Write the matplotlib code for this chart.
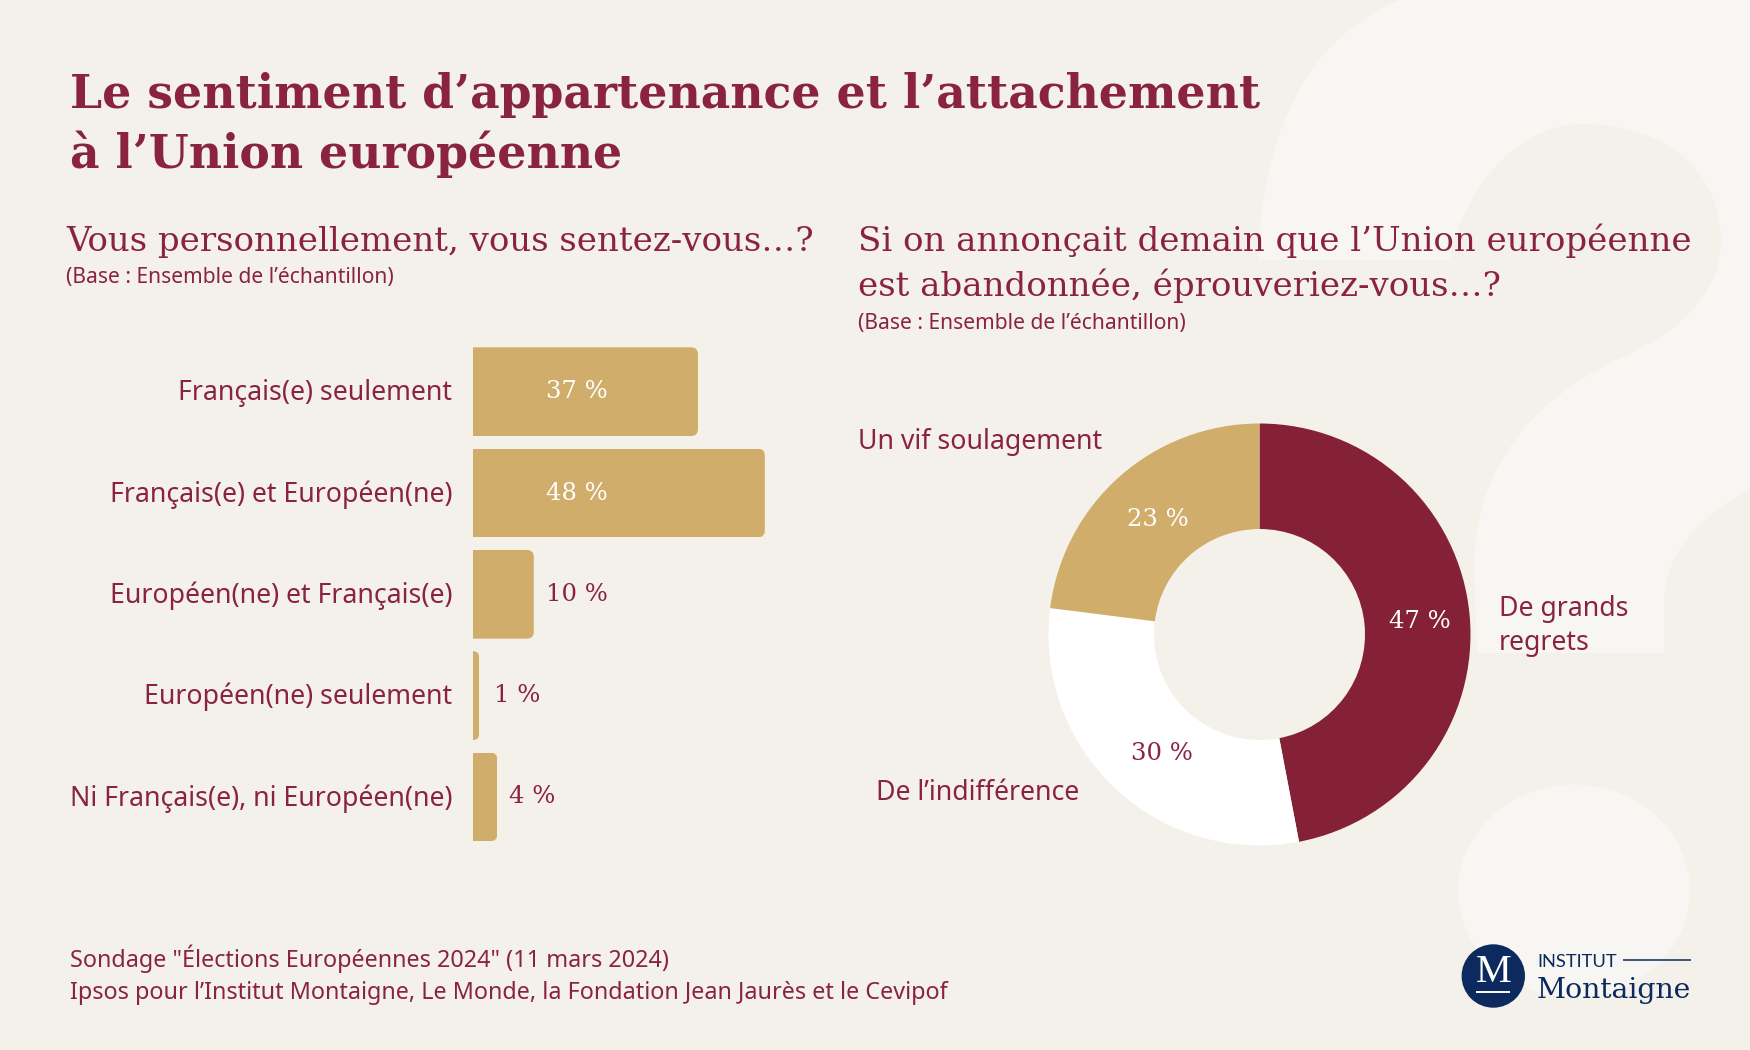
import matplotlib
matplotlib.use("Agg")
import matplotlib.pyplot as plt
from matplotlib.path import Path
from matplotlib.patches import PathPatch, Ellipse, Circle
from matplotlib.transforms import ScaledTranslation

# ---- data ----
bar_categories = ["Français(e) seulement", "Français(e) et Européen(ne)",
                  "Européen(ne) et Français(e)", "Européen(ne) seulement",
                  "Ni Français(e), ni Européen(ne)"]
bar_values = [37, 48, 10, 1, 4]
donut_categories = ["De grands\nregrets", "De l’indifférence", "Un vif soulagement"]
donut_values = [47, 30, 23]

title_lines = ["Le sentiment d’appartenance et l’attachement", "à l’Union européenne"]
left_question = ["Vous personnellement, vous sentez-vous…?"]
right_question = ["Si on annonçait demain que l’Union européenne", "est abandonnée, éprouveriez-vous…?"]
base_note = "(Base : Ensemble de l’échantillon)"
footer_lines = ["Sondage \"Élections Européennes 2024\" (11 mars 2024)",
                "Ipsos pour l’Institut Montaigne, Le Monde, la Fondation Jean Jaurès et le Cevipof"]

# ---- styles ----
W, H = 1750, 1050
BG = "#F4F1EA"
PALE = "#F8F6F2"
WINE = "#852137"
TEXT = "#8A2340"
GOLD = "#D0AD6A"
NAVY = "#0C2A5E"
SERIF = "DejaVu Serif"
SANS = "Noto Sans"
LABEL_SIZE = 19.2

fig = plt.figure(figsize=(W / 100, H / 100), dpi=100, facecolor=BG)
renderer = fig.canvas.get_renderer()


def fit(txt, target_px):
    """Scale a text's font size so that it spans target_px pixels."""
    w = txt.get_window_extent(renderer).width
    txt.set_fontsize(txt.get_fontsize() * target_px / w)
    return txt


def axes_px(x0, y0, x1, y1, **kw):
    return fig.add_axes([x0 / W, 1 - y1 / H, (x1 - x0) / W, (y1 - y0) / H], **kw)


# ---- page layer, in pixel coordinates ----
bgax = fig.add_axes([0, 0, 1, 1], zorder=0)
bgax.set_xlim(0, W)
bgax.set_ylim(H, 0)
bgax.axis("off")

M, L, C = Path.MOVETO, Path.LINETO, Path.CURVE4
q_pts = [(1400, 0), (1310, 35), (1262, 130), (1258, 260), (1449, 260),
         (1470, 170), (1530, 124), (1582, 124), (1670, 124), (1721, 175), (1721, 241),
         (1721, 300), (1670, 335), (1621, 358), (1530, 400), (1474, 470), (1474, 569),
         (1477, 653), (1664, 653), (1664, 603), (1664, 555), (1700, 515), (1750, 489),
         (1750, 0), (1400, 0)]
q_codes = [M, C, C, C, L, C, C, C, C, C, C, C, C, C, C, C, C, L, L, L, C, C, C, L, L]
bgax.add_patch(PathPatch(Path(q_pts, q_codes), fc=PALE, ec="none"))
bgax.add_patch(Ellipse((1574, 891), 232, 213, fc=PALE, ec="none"))

t1 = bgax.text(70, 108.5, title_lines[0], family=SERIF, weight="bold", color=TEXT, fontsize=34, va="baseline")
fit(t1, 1190)
bgax.text(70, 167.5, title_lines[1], family=SERIF, weight="bold", color=TEXT, fontsize=t1.get_fontsize(), va="baseline")

t2 = bgax.text(66, 251, left_question[0], family=SERIF, color=TEXT, fontsize=24, va="baseline")
fit(t2, 748)
t3 = bgax.text(858, 251, right_question[0], family=SERIF, color=TEXT, fontsize=24, va="baseline")
fit(t3, 834)
bgax.text(858, 296, right_question[1], family=SERIF, color=TEXT, fontsize=t3.get_fontsize(), va="baseline")

n1 = bgax.text(66, 283, base_note, family=SANS, color=TEXT, fontsize=13, va="baseline")
fit(n1, 328)
bgax.text(858, 329, base_note, family=SANS, color=TEXT, fontsize=n1.get_fontsize(), va="baseline")

f1 = bgax.text(70, 959, footer_lines[0], family=SANS, color=TEXT, fontsize=17, va="center")
f2 = bgax.text(70, 993, footer_lines[1], family=SANS, color=TEXT, fontsize=17, va="center")
fit(f2, 875)
f1.set_fontsize(f2.get_fontsize())

# logo
bgax.add_patch(Circle((1493.3, 976), 31.7, fc=NAVY, ec="none"))
bgax.text(1493.3, 973, "M", family="Liberation Serif", color="white", fontsize=29, ha="center", va="center")
bgax.plot([1476, 1510], [992, 992], color="white", lw=1.4, solid_capstyle="butt")
inst = bgax.text(1537, 966.7, "INSTITUT", family="Lato", color=NAVY, fontsize=13, va="baseline")
fit(inst, 80)
bgax.plot([1623, 1691], [960, 960], color=NAVY, lw=1.1, solid_capstyle="butt")
mont = bgax.text(1537, 997.7, "Montaigne", family=SERIF, color=NAVY, fontsize=22, va="baseline")
fit(mont, 155)

# ---- bars ----
PX_PER_UNIT = 6.08
ROW = 101.3
BAR_H = 88.7
bx0 = 473
by0 = 391.7 - ROW / 2
ax = axes_px(bx0, by0, bx0 + 50 * PX_PER_UNIT, by0 + 5 * ROW, zorder=1)
ax.patch.set_alpha(0)
ypos = list(range(len(bar_values)))
bars = ax.barh(ypos, bar_values, height=BAR_H / ROW, color=GOLD, linewidth=0)
ax.set_xlim(0, 50)
ax.set_ylim(len(bar_values) - 0.5, -0.5)
ax.set_xticks([])
ax.set_yticks(ypos, bar_categories, family=SANS, color=TEXT, fontsize=LABEL_SIZE)
ax.tick_params(axis="y", length=0, pad=15)
for lab in ax.get_yticklabels():
    lab.set_transform(lab.get_transform() + ScaledTranslation(0, 2 / 100, fig.dpi_scale_trans))
for s in ax.spines.values():
    s.set_visible(False)

for bar, v, y in zip(bars, bar_values, ypos):
    # round the two right-hand corners
    rpx = min(7.0, v * PX_PER_UNIT)
    rx, ry = rpx / PX_PER_UNIT, rpx / ROW
    hh = bar.get_height() / 2
    pts = [(0, y - hh), (v - rx, y - hh), (v, y - hh), (v, y - hh + ry),
           (v, y + hh - ry), (v, y + hh), (v - rx, y + hh), (0, y + hh), (0, y - hh)]
    codes = [M, L, Path.CURVE3, Path.CURVE3, L, Path.CURVE3, Path.CURVE3, L, L]
    bar.set_clip_path(Path(pts, codes), ax.transData)
    inside = v > 10
    ax.text(min(v, 10) + 2 + (0.45 if v == 1 else 0), y, f"{v} %", family=SERIF, fontsize=17.5, va="center",
            color="white" if inside else TEXT)

# ---- donut ----
cx, cy, R = 1259.5, 634.5, 211
dax = axes_px(cx - R, cy - R, cx + R, cy + R, zorder=1)
dax.pie(donut_values, colors=[WINE, "white", GOLD], startangle=90, counterclock=False,
        radius=1, wedgeprops=dict(width=0.5, linewidth=0))
dax.set_xlim(-1, 1)
dax.set_ylim(-1, 1)
dax.set_aspect("equal")

value_pos = [(0.76, 0.06), (-0.462, -0.566), (-0.481, 0.544)]
value_col = ["white", TEXT, "white"]
for v, (x, y), c in zip(donut_values, value_pos, value_col):
    dax.text(x, y, f"{v} %", family=SERIF, fontsize=17.5, color=c, ha="center", va="center")

label_pos = [(1499, 626), (876, 793), (858, 442)]
for lab, (x, y) in zip(donut_categories, label_pos):
    bgax.text(x, y, lab, family=SANS, fontsize=LABEL_SIZE, color=TEXT, va="center", ha="left", linespacing=1.27)

fig.savefig("out.png", dpi=100, facecolor=BG)
